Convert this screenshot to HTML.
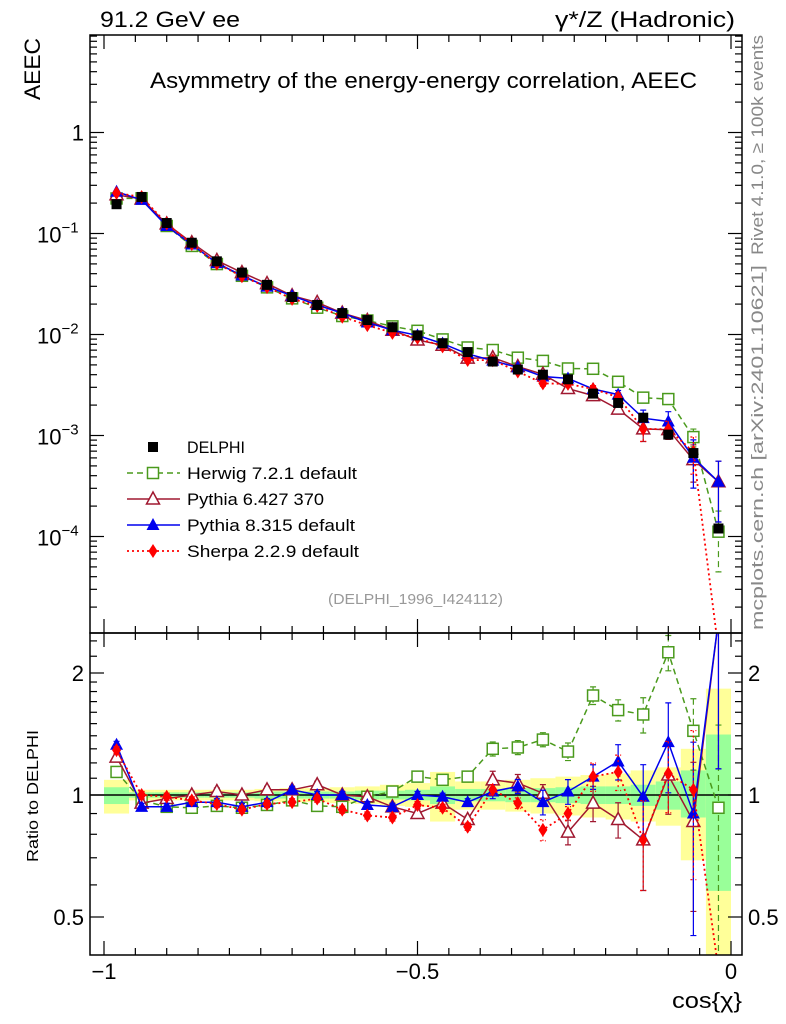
<!DOCTYPE html>
<html><head><meta charset="utf-8"><style>
html,body{margin:0;background:#fff;overflow:hidden;width:786px;height:1024px;}
svg{display:block;font-family:"Liberation Sans",sans-serif;}
</style></head><body>
<svg id="chart" width="786" height="1024" viewBox="0 0 786 1024" xmlns="http://www.w3.org/2000/svg">
<defs>
<clipPath id="cm"><rect x="90" y="35" width="652" height="598"/></clipPath>
<clipPath id="cr"><rect x="90" y="633" width="652" height="322"/></clipPath>
</defs>
<g id="bands" clip-path="url(#cr)"></g>
<line x1="90" x2="742" y1="795" y2="795" stroke="#000" stroke-width="1.5"/>
<g id="mainMarks" clip-path="url(#cm)"></g>
<g id="ratioMarks" clip-path="url(#cr)"></g>
<g id="axes"></g>
<rect x="90" y="35" width="652" height="598" fill="none" stroke="#000" stroke-width="1.5"/>
<rect x="90" y="633" width="652" height="322" fill="none" stroke="#000" stroke-width="1.5"/>
<text x="100" y="27" font-size="22" textLength="140" lengthAdjust="spacingAndGlyphs">91.2 GeV ee</text>
<text x="555" y="27" font-size="22" textLength="180" lengthAdjust="spacingAndGlyphs">γ*/Z (Hadronic)</text>
<text x="150" y="88" font-size="22" textLength="547" lengthAdjust="spacingAndGlyphs">Asymmetry of the energy-energy correlation, AEEC</text>
<text transform="translate(40,100) rotate(-90)" font-size="22" textLength="62" lengthAdjust="spacingAndGlyphs">AEEC</text>
<text transform="translate(38,862) rotate(-90)" font-size="16" textLength="132" lengthAdjust="spacingAndGlyphs">Ratio to DELPHI</text>
<text x="672" y="1008" font-size="22" textLength="70" lengthAdjust="spacingAndGlyphs">cos{χ}</text>
<text transform="translate(763,255) rotate(-90)" font-size="17" fill="#888" textLength="220" lengthAdjust="spacingAndGlyphs">Rivet 4.1.0, ≥ 100k events</text>
<text transform="translate(763,630) rotate(-90)" font-size="17" fill="#888" textLength="365" lengthAdjust="spacingAndGlyphs">mcplots.cern.ch [arXiv:2401.10621]</text>
<text x="328" y="604" font-size="15" fill="#999" textLength="175" lengthAdjust="spacingAndGlyphs">(DELPHI_1996_I424112)</text>
<g id="legend"></g>
</svg>
<script>
const centers=[-0.98,-0.94,-0.90,-0.86,-0.82,-0.78,-0.74,-0.70,-0.66,-0.62,-0.58,-0.54,-0.50,-0.46,-0.42,-0.38,-0.34,-0.30,-0.26,-0.22,-0.18,-0.14,-0.10,-0.06,-0.02];
const delphi=[0.195,0.23,0.127,0.081,0.053,0.041,0.031,0.0235,0.0196,0.0163,0.0139,0.0118,0.0098,0.0082,0.0067,0.0054,0.0045,0.0040,0.0036,0.0026,0.0021,0.0015,0.00102,0.00067,0.00012];
const herwigRatio=[1.14,0.97,0.935,0.93,0.94,0.93,0.945,0.97,0.94,0.935,0.99,1.02,1.11,1.09,1.11,1.30,1.31,1.37,1.28,1.76,1.62,1.58,2.25,1.44,0.93];
const py6Ratio=[1.24,0.955,0.98,1.0,1.02,1.0,1.03,1.03,1.06,1.0,0.99,0.935,0.90,0.955,0.87,1.09,1.07,1.01,0.81,0.955,0.87,0.775,1.12,0.86,2.9];
const py8Ratio=[1.33,0.935,0.935,0.96,0.96,0.935,0.96,1.03,1.0,1.0,0.945,0.935,1.0,0.99,0.96,1.02,1.05,0.96,1.02,1.11,1.21,0.99,1.35,0.90,2.9];
const sherpaRatio=[1.29,1.0,0.99,0.97,0.95,0.92,0.95,0.96,0.98,0.92,0.89,0.88,0.945,0.93,0.835,1.03,0.955,0.82,0.90,1.11,1.14,0.775,1.13,1.03,0.05];
const herwigErr=[0.02,0.02,0.02,0.02,0.02,0.02,0.02,0.02,0.02,0.02,0.02,0.02,0.02,0.02,0.02,0.04,0.04,0.04,0.05,0.05,0.06,0.1,0.1,0.2,0.6];
const py6Err=[0.02,0.02,0.02,0.02,0.02,0.02,0.02,0.02,0.02,0.02,0.02,0.02,0.02,0.02,0.02,0.05,0.05,0.05,0.07,0.1,0.1,0.25,0.2,0.4,0.6];
const py8Err=[0.02,0.02,0.02,0.02,0.02,0.02,0.02,0.02,0.02,0.02,0.02,0.02,0.02,0.02,0.02,0.04,0.04,0.07,0.07,0.07,0.1,0.2,0.25,0.5,0.6];
const sherpaErr=[0.02,0.02,0.02,0.02,0.02,0.02,0.02,0.02,0.02,0.02,0.02,0.02,0.02,0.02,0.02,0.03,0.03,0.06,0.04,0.08,0.1,0.25,0.2,0.4,0.6];
const yellowHi=[1.09,1.03,1.03,1.03,1.03,1.03,1.035,1.04,1.04,1.045,1.05,1.06,1.07,1.14,1.08,1.08,1.09,1.1,1.11,1.12,1.13,1.15,1.17,1.3,1.83];
const yellowLo=[0.9,0.97,0.97,0.97,0.97,0.97,0.965,0.96,0.96,0.955,0.95,0.94,0.935,0.86,0.92,0.92,0.91,0.9,0.89,0.88,0.87,0.86,0.84,0.69,0.3];
const greenHi=[1.045,1.015,1.015,1.015,1.015,1.015,1.02,1.02,1.02,1.02,1.025,1.025,1.03,1.05,1.035,1.035,1.04,1.04,1.045,1.05,1.05,1.06,1.08,1.15,1.41];
const greenLo=[0.95,0.985,0.985,0.985,0.985,0.985,0.98,0.98,0.98,0.98,0.975,0.975,0.97,0.95,0.965,0.965,0.96,0.96,0.955,0.95,0.95,0.94,0.92,0.88,0.58];
const xTickLabels=["−1","−0.5","0"];
const xTickValues=[-1,-0.5,0];
const ratioTickLabels=["2","1","0.5"];
const ratioTickValues=[2,1,0.5];

const NS="http://www.w3.org/2000/svg";
const X=c=>104+(c+1)*627;
const clamp=(y,a,b)=>Math.min(b,Math.max(a,y));
const Ym=v=>clamp(132.5-Math.log10(Math.max(v,1e-12))*101,20,650);
const Yr=r=>clamp(795-Math.log2(Math.max(r,1e-6))*122,620,970);
const binW=0.04;
function mk(tag,attrs,parent){const e=document.createElementNS(NS,tag);for(const k in attrs)e.setAttribute(k,attrs[k]);parent.appendChild(e);return e;}
const G=id=>document.getElementById(id);

centers.forEach((c,i)=>{
  const x0=X(c-binW/2),x1=X(c+binW/2);
  const yt=Yr(yellowHi[i]),yb=Math.min(Yr(yellowLo[i]),955);
  const y=mk('rect',{x:x0,y:yt,width:x1-x0,height:yb-yt,fill:'#ffff99'},G('bands'));
  
  
  const g=mk('rect',{x:x0,y:Yr(greenHi[i]),width:x1-x0,height:Yr(greenLo[i])-Yr(greenHi[i]),fill:'#99ff99'},G('bands'));
  
  
});

function marker(type,x,y,color,parent){
  let e;
  if(type==='sq') e=mk('rect',{x:x-5,y:y-5,width:10,height:10,fill:'#000'},parent);
  else if(type==='osq') e=mk('rect',{x:x-5.5,y:y-5.5,width:11,height:11,fill:'#fff',stroke:color,'stroke-width':1.5},parent);
  else if(type==='otri') e=mk('path',{d:`M${x} ${y-7}L${x+6.5} ${y+5}L${x-6.5} ${y+5}Z`,fill:'#fff',stroke:color,'stroke-width':1.5},parent);
  else if(type==='tri') e=mk('path',{d:`M${x} ${y-7}L${x+6.5} ${y+5}L${x-6.5} ${y+5}Z`,fill:color},parent);
  else e=mk('path',{d:`M${x} ${y-7}L${x+4.5} ${y}L${x} ${y+7}L${x-4.5} ${y}Z`,fill:color},parent);
  return e;
}
const series=[
 {name:'herwig',ratio:herwigRatio,err:herwigErr,color:'#4a9a1c',dash:'6,4',m:'osq',w:1.5},
 {name:'pythia6',ratio:py6Ratio,err:py6Err,color:'#a01830',dash:'',m:'otri',w:1.5},
 {name:'pythia8',ratio:py8Ratio,err:py8Err,color:'#0000ee',dash:'',m:'tri',w:1.5},
 {name:'sherpa',ratio:sherpaRatio,err:sherpaErr,color:'#ff0000',dash:'2,3',m:'dia',w:1.8}
];
series.forEach(s=>{
  const vals=s.ratio.map((r,i)=>r*delphi[i]);
  [['main',G('mainMarks'),vals,Ym],['ratio',G('ratioMarks'),s.ratio,Yr]].forEach(([pn,par,arr,Yf])=>{
    const pts=arr.map((v,i)=>X(centers[i])+','+Yf(v).toFixed(1)).join(' ');
    const l=mk('polyline',{points:pts,fill:'none',stroke:s.color,'stroke-width':s.w,'stroke-dasharray':s.dash},par);
    
    
    arr.forEach((v,i)=>{
      const x=X(centers[i]);
      const hi=Yf(v*(1+s.err[i])),lo=Yf(v*(1-s.err[i]));
      const eb=mk('path',{d:`M${x} ${hi}V${lo}M${x-3} ${hi}H${x+3}M${x-3} ${lo}H${x+3}`,stroke:s.color,'stroke-width':1.2,'stroke-dasharray':s.dash,fill:'none'},par);
      
      
      const m=marker(s.m,x,Yf(v),s.color,par);
      
      
    });
  });
});
delphi.forEach((v,i)=>{
  const m=marker('sq',X(centers[i]),Ym(v),'#000',G('mainMarks'));
  
  
});

const ax=G('axes');
function tick(x1,y1,x2,y2){const t=mk('line',{x1,y1,x2,y2,stroke:'#000','stroke-width':1.2},ax);}
for(let k=0;k<=21;k++){
  const c=-1.05+k*0.05; if(c<-1.03||c>0.02) continue;
  const x=X(c); const major=Math.abs((c*2)-Math.round(c*2))<1e-6;
  const L=major?14:7;
  [[35,1],[633,-1],[633,1],[955,-1]].forEach(([y,d])=>tick(x,y,x,y+d*L));
}
for(let d=-5;d<=0;d++){for(let m=1;m<=9;m++){const v=m*Math.pow(10,d);const y=132.5-Math.log10(v)*101;if(y<35||y>633)continue;const L=m===1?14:7;tick(90,y,90+L,y);tick(742,y,742-L,y);}}
[0.4,0.5,0.6,0.7,0.8,0.9,1,1.1,1.2,1.3,1.4,1.5,1.6,1.7,1.8,1.9,2,2.2,2.4].forEach(r=>{const y=795-Math.log2(r)*122;if(y<633||y>955)return;const L=(r===0.5||r===1||r===2)?14:7;tick(90,y,90+L,y);tick(742,y,742-L,y);});
xTickValues.forEach((v,i)=>{const t=mk('text',{x:X(v),y:979,'font-size':22,'text-anchor':'middle'},ax);t.textContent=xTickLabels[i];});
ratioTickValues.forEach((v,i)=>{
  [[84,'end'],[748,'start']].forEach(([x,a])=>{const t=mk('text',{x,y:Yr(v)+8,'font-size':22,'text-anchor':a},ax);t.textContent=ratioTickLabels[i];});
});
const one=mk('text',{x:84,y:Ym(1)+8,'font-size':22,'text-anchor':'end'},ax);one.textContent='1';


[-1,-2,-3,-4].forEach(d=>{
  const t=mk('text',{x:37,y:Ym(Math.pow(10,d))+9,'font-size':22},ax);
  
  
  t.textContent='10';
  const s=mk('tspan',{dy:-10,'font-size':15},t);s.textContent='−'+(-d);
});

const lg=G('legend');
const entries=[['DELPHI',null,58],['Herwig 7.2.1 default',series[0],170],['Pythia 6.427 370',series[1],137],['Pythia 8.315 default',series[2],168],['Sherpa 2.2.9 default',series[3],172]];
entries.forEach((e,i)=>{
  const y=447+i*26;
  const g=mk('g',{},lg);
  
  
  if(e[1]){
    mk('line',{x1:127,x2:180,y1:y,y2:y,stroke:e[1].color,'stroke-width':e[1].w,'stroke-dasharray':e[1].dash},g);
    marker(e[1].m,153,y,e[1].color,g);
  } else marker('sq',153,y,'#000',g);
  const t=mk('text',{x:187,y:y+6,'font-size':17,textLength:e[2],lengthAdjust:'spacingAndGlyphs'},g);t.textContent=e[0];
});
</script>
</body></html>
